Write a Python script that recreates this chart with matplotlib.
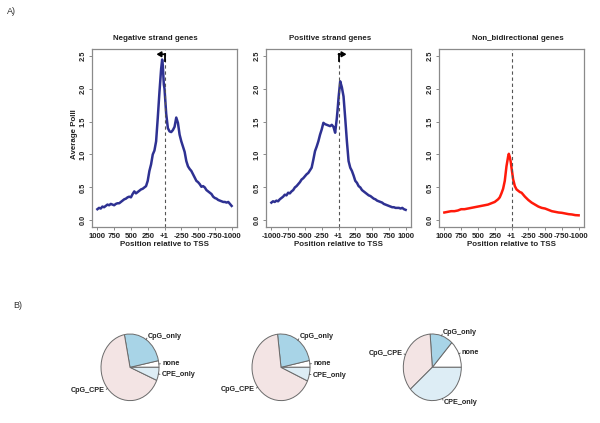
import numpy as np
import matplotlib
matplotlib.use("Agg")
import matplotlib.pyplot as plt

plt.rcParams['font.family'] = ['Liberation Sans', 'DejaVu Sans']

# ---------------- data ----------------
titles = ["Negative strand genes", "Positive strand genes", "Non_bidirectional genes"]
xlabel = "Position relative to TSS"
ylabel = "Average PolII"
tick_pos = [-1000, -750, -500, -250, 0, 250, 500, 750, 1000]
labels_rev = ["1000", "750", "500", "250", "+1", "-250", "-500", "-750", "-1000"]
labels_fwd = ["-1000", "-750", "-500", "-250", "+1", "250", "500", "750", "1000"]
yticks = [0.0, 0.5, 1.0, 1.5, 2.0, 2.5]

neg_x = [-1000, -975, -950, -925, -900, -875, -850, -825, -800, -775, -750, -725, -700, -675,
         -650, -625, -600, -575, -550, -525, -500, -475, -450, -425, -400, -375, -350, -325,
         -300, -275, -250, -225, -200, -175, -150, -125, -100, -75, -50, -35, -25, -10, 0,
         25, 50, 75, 100, 125, 150, 175, 200, 225, 250, 275, 300, 325, 350, 375, 400, 425,
         450, 475, 500, 525, 550, 575, 600, 625, 650, 675, 700, 725, 750, 775, 800, 825,
         850, 875, 900, 925, 950, 975, 1000]
neg_y = [0.17, 0.19, 0.18, 0.21, 0.20, 0.22, 0.24, 0.23, 0.25, 0.24, 0.23, 0.25, 0.26, 0.26,
         0.28, 0.30, 0.32, 0.33, 0.35, 0.36, 0.35, 0.40, 0.44, 0.41, 0.43, 0.45, 0.47, 0.48,
         0.50, 0.52, 0.60, 0.75, 0.85, 1.00, 1.06, 1.20, 1.56, 1.95, 2.30, 2.44, 2.35, 2.06, 2.00,
         1.62, 1.40, 1.35, 1.34, 1.37, 1.42, 1.56, 1.48, 1.30, 1.20, 1.12, 1.04, 0.90, 0.82,
         0.78, 0.75, 0.70, 0.65, 0.60, 0.58, 0.55, 0.51, 0.52, 0.50, 0.46, 0.44, 0.42, 0.40,
         0.36, 0.34, 0.33, 0.31, 0.30, 0.29, 0.28, 0.28, 0.27, 0.28, 0.25, 0.22]

pos_x = [-1000, -975, -950, -925, -900, -875, -850, -825, -800, -775, -750, -725, -700, -675,
         -650, -625, -600, -575, -550, -525, -500, -475, -450, -425, -400, -375, -350, -325,
         -300, -275, -250, -225, -200, -175, -150, -125, -100, -75, -50, -25, -10, 0, 25, 50,
         75, 100, 125, 150, 175, 200, 225, 250, 275, 300, 325, 350, 375, 400, 425, 450, 475,
         500, 525, 550, 575, 600, 625, 650, 675, 700, 725, 750, 775, 800, 825, 850, 875, 900,
         925, 950, 975, 1000]
pos_y = [0.27, 0.29, 0.28, 0.30, 0.29, 0.32, 0.34, 0.36, 0.39, 0.38, 0.42, 0.41, 0.44, 0.46,
         0.50, 0.52, 0.55, 0.58, 0.62, 0.64, 0.67, 0.70, 0.72, 0.76, 0.80, 0.92, 1.05, 1.12,
         1.20, 1.30, 1.38, 1.48, 1.46, 1.45, 1.44, 1.43, 1.45, 1.42, 1.33, 1.55, 1.72, 1.85,
         2.11, 2.02, 1.88, 1.55, 1.20, 0.90, 0.80, 0.75, 0.68, 0.60, 0.57, 0.52, 0.50, 0.46,
         0.44, 0.42, 0.40, 0.38, 0.37, 0.35, 0.33, 0.32, 0.30, 0.29, 0.28, 0.27, 0.25, 0.24,
         0.23, 0.22, 0.21, 0.20, 0.20, 0.19, 0.19, 0.19, 0.18, 0.19, 0.17, 0.16]

non_x = [-1000, -950, -900, -850, -800, -750, -700, -650, -600, -550, -500, -450, -400, -350,
         -300, -250, -200, -175, -150, -125, -100, -75, -50, -40, -25, -10, 0, 25, 50, 75,
         100, 125, 150, 175, 200, 250, 300, 350, 400, 450, 500, 550, 600, 650, 700, 750, 800,
         850, 900, 950, 1000]
non_y = [0.12, 0.13, 0.14, 0.14, 0.15, 0.17, 0.17, 0.18, 0.19, 0.20, 0.21, 0.22, 0.23, 0.24,
         0.26, 0.28, 0.32, 0.35, 0.41, 0.48, 0.60, 0.82, 0.97, 1.01, 0.96, 0.88, 0.80, 0.62,
         0.52, 0.47, 0.45, 0.43, 0.42, 0.39, 0.36, 0.31, 0.27, 0.24, 0.21, 0.19, 0.18, 0.16,
         0.14, 0.13, 0.12, 0.115, 0.105, 0.095, 0.09, 0.08, 0.077]

pie_labels = ["none", "CpG_only", "CpG_CPE", "CPE_only"]
pie1 = [3.2, 24.9, 65.5, 6.4]
pie2 = [3.3, 23.6, 66.4, 6.7]
pie3 = [13.3, 12.9, 35.2, 38.6]
pie_colors = ["white", "#a8d4e7", "#f3e4e4", "#ddedf5"]

# ---------------- figure ----------------
W, H = 600, 423
fig = plt.figure(figsize=(6, 4.23), dpi=100)
fig.patch.set_facecolor("white")

def px(l, t, w, h):
    return [l / W, 1 - (t + h) / H, w / W, h / H]

blue = "#2e3192"
red = "#ff1a0a"
boxcol = "#8a8a8a"
fs_xtick = 5.6
fs_ytick = 5.3
fs_lab = 5.7

panels = [
    (92, neg_x, neg_y, blue, labels_rev, 155, "left"),
    (266, pos_x, pos_y, blue, labels_fwd, 330, "right"),
    (439, non_x, non_y, red, labels_rev, 518, None),
]
for i, (left, xs, ys, col, tl, tcx, arrow) in enumerate(panels):
    ax = fig.add_axes(px(left, 49, 145, 178))
    ax.plot(xs, ys, color=col, lw=1.8, solid_joinstyle="round")
    ax.axvline(0, color="#555555", lw=0.8, ls=(0, (3, 2.5)))
    ax.set_xlim(-1080, 1080)
    ax.set_ylim(-0.1, 2.6)
    ax.set_xticks(tick_pos)
    ax.set_xticklabels(tl, fontsize=fs_xtick, fontweight="bold", color="#222222")
    ax.set_yticks(yticks)
    ax.set_yticklabels(["%.1f" % v for v in yticks], fontsize=fs_ytick, fontweight="bold",
                       rotation=90, va="center", color="#222222")
    ax.tick_params(axis="both", length=2.5, width=0.7, color=boxcol, pad=1.5)
    ax.tick_params(axis="y", pad=1.2)
    for s in ax.spines.values():
        s.set_color(boxcol)
        s.set_linewidth(0.9)
    fig.text(tcx / W, 1 - 39 / H, titles[i], ha="center", va="center",
             fontsize=fs_lab, fontweight="bold", color="#222222")
    fig.text((left + 72.5) / W, 1 - 244.5 / H, xlabel, ha="center", va="center",
             fontsize=fs_lab, fontweight="bold", color="#222222")
    if arrow == "left":
        ax.plot([0, 0], [2.42, 2.52], color="black", lw=1.3)
        ax.annotate("", xy=(-120, 2.52), xytext=(0, 2.52),
                    arrowprops=dict(arrowstyle="-|>,head_length=0.25,head_width=0.15",
                                    color="black", lw=1.3, shrinkA=0, shrinkB=0))
    elif arrow == "right":
        ax.plot([0, 0], [2.42, 2.52], color="black", lw=1.3)
        ax.annotate("", xy=(120, 2.52), xytext=(0, 2.52),
                    arrowprops=dict(arrowstyle="-|>,head_length=0.25,head_width=0.15",
                                    color="black", lw=1.3, shrinkA=0, shrinkB=0))

fig.text(74 / W, 1 - 134 / H, ylabel, rotation=90, ha="center", va="center",
         fontsize=fs_lab, fontweight="bold", color="#222222")

fig.text(7 / W, 1 - 11 / H, "A)", ha="left", va="center", fontsize=6.5, color="#333333")
fig.text(13 / W, 1 - 305 / H, "B)", ha="left", va="center", fontsize=6.5, color="#333333")

# ---------------- pies ----------------
for cx, vals in [(130, pie1), (281, pie2), (432.3, pie3)]:
    pax = fig.add_axes(px(cx - 29, 367.3 - 33.3, 58, 66.6))
    wedges, texts = pax.pie(vals, labels=pie_labels, colors=pie_colors, startangle=0,
                            counterclock=True, labeldistance=1.12,
                            wedgeprops=dict(edgecolor="#6a6a6a", linewidth=0.7),
                            textprops=dict(fontsize=5.2, fontweight="bold", color="#222222"))
    for w in wedges:
        mid = np.deg2rad((w.theta1 + w.theta2) / 2)
        pax.plot([np.cos(mid), 1.05 * np.cos(mid)], [np.sin(mid), 1.05 * np.sin(mid)],
                 color="#555555", lw=0.6, clip_on=False)
    pax.set_aspect("auto")
    pax.set_xlim(-1, 1)
    pax.set_ylim(-1, 1)

fig.savefig("out.png", dpi=100, facecolor="white")
